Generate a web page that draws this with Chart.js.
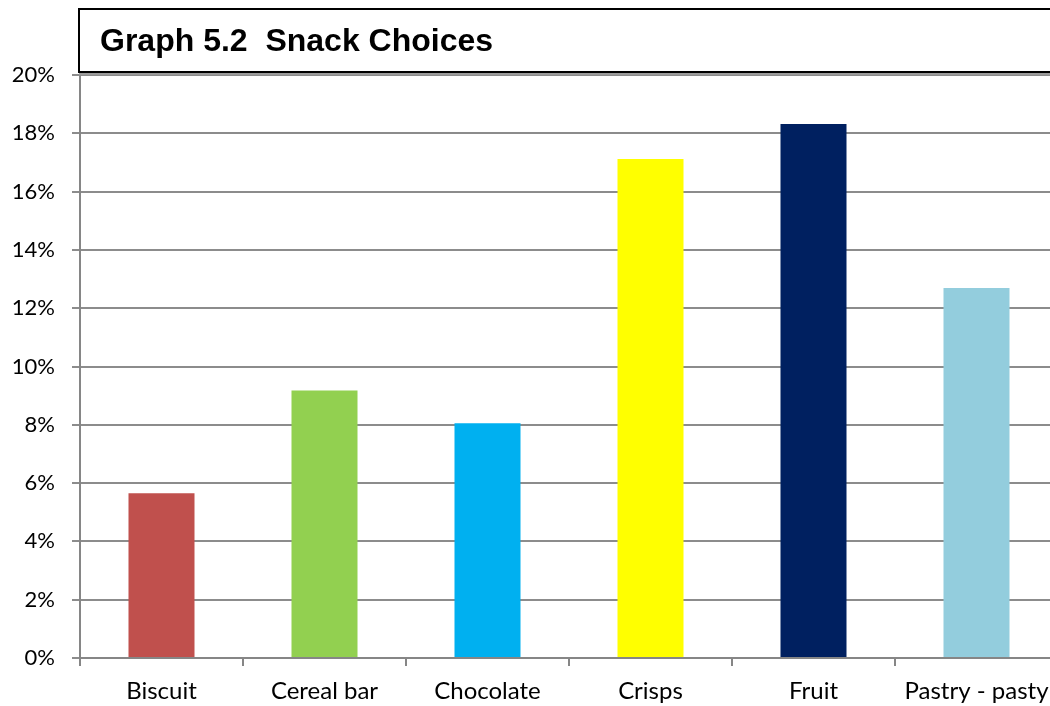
<!DOCTYPE html>
<html>
<head>
<meta charset="utf-8">
<script src="https://cdn.jsdelivr.net/npm/chart.js@4/dist/chart.umd.min.js"></script>
<style>
html,body{margin:0;padding:0;background:#fff;overflow:hidden;}
#wrap{width:1060px;height:706px;}
</style>
</head>
<body>
<div id="wrap"><canvas id="c" width="1060" height="706"></canvas></div>
<script>
const categories = ["Biscuit", "Cereal bar", "Chocolate", "Crisps", "Fruit", "Pastry - pasty"];
const values = [5.65, 9.18, 8.05, 17.12, 18.32, 12.69];
const barColors = ["#C0504D", "#92D050", "#00B0F0", "#FFFF00", "#002060", "#93CDDD"];
const titleText = "Graph 5.2  Snack Choices";

const titleBox = {
  id: 'titleBox',
  afterDraw(chart) {
    const ctx = chart.ctx;
    ctx.save();
    ctx.strokeStyle = '#9a9a9a';
    ctx.lineWidth = 2;
    ctx.strokeRect(80, 11, 1000, 63);
    ctx.fillStyle = '#fff';
    ctx.fillRect(79, 10, 1000, 62);
    ctx.strokeStyle = '#000';
    ctx.lineWidth = 2;
    ctx.strokeRect(79, 9, 1000, 63);
    ctx.fillStyle = '#000';
    ctx.font = 'bold 32px "Liberation Sans", Arial, sans-serif';
    ctx.textBaseline = 'alphabetic';
    ctx.fillText(titleText, 100, 51);
    ctx.restore();
  }
};

const xFont = { family: 'Lato, "Open Sans", sans-serif', size: 24 };
const yFont = { family: 'Lato, "Open Sans", sans-serif', size: 22 };

new Chart(document.getElementById('c'), {
  type: 'bar',
  data: {
    labels: categories,
    datasets: [{
      data: values,
      backgroundColor: barColors,
      borderWidth: 0,
      barPercentage: 0.405,
      categoryPercentage: 1.0
    }]
  },
  options: {
    responsive: false,
    animation: false,
    devicePixelRatio: 1,
    layout: { padding: { top: 75, right: 2, left: 0, bottom: 0 } },
    plugins: { legend: { display: false }, tooltip: { enabled: false }, title: { display: false } },
    scales: {
      x: {
        grid: { display: true, drawOnChartArea: false, drawTicks: true, tickLength: 8, color: '#868686', lineWidth: 2 },
        border: { display: true, color: '#868686', width: 2 },
        ticks: { color: '#000', font: xFont, padding: 11, maxRotation: 0, autoSkip: false },
        afterFit(scale) { scale.height = 48; }
      },
      y: {
        min: 0, max: 20,
        ticks: { stepSize: 2, color: '#000', font: yFont, padding: 17, callback: v => v + '%' },
        grid: { color: '#8c8c8c', lineWidth: 2, tickLength: 8 },
        border: { display: true, color: '#868686', width: 2 },
        afterFit(scale) { scale.width = 80; }
      }
    }
  },
  plugins: [titleBox]
});
</script>
</body>
</html>
